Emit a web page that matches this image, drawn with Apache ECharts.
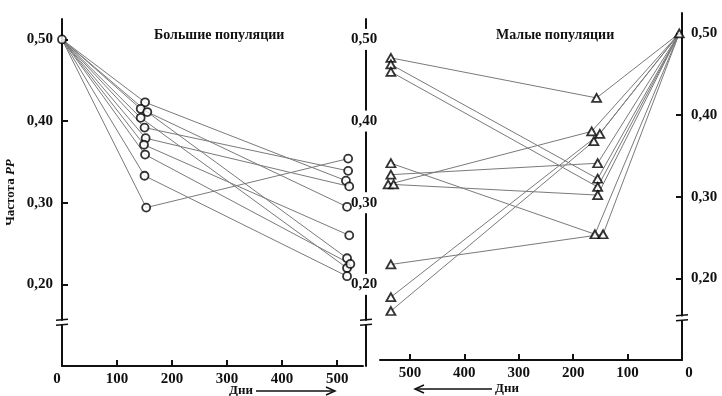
<!DOCTYPE html>
<html>
<head>
<meta charset="utf-8">
<script src="https://cdn.jsdelivr.net/npm/echarts@6/dist/echarts.min.js"></script>
<style>
  html, body { margin: 0; padding: 0; background: #fff; }
  #chart { width: 722px; height: 396px; }
</style>
</head>
<body>
<div id="chart"></div>
<script>
// ---- Large populations: all lines start at day 0, PP frequency 0.50 ----
const bigStartDay = 0;
const bigStartFreq = 0.50;
const bigMidDays = [151, 143, 155, 143, 150, 152, 149, 151, 150, 153];
const bigMidFreq = [0.423, 0.415, 0.411, 0.404, 0.392, 0.379, 0.371, 0.359, 0.333, 0.294];
const bigEndDays = [516, 518, 518, 518, 520, 522, 522, 524, 518, 520];
const bigEndFreq = [0.327, 0.295, 0.232, 0.220, 0.339, 0.320, 0.260, 0.225, 0.210, 0.354];

// ---- Small populations: all lines end at day ~0, PP frequency 0.50 ----
const smallStartDays = [535, 535, 535, 535, 535, 540, 530, 535, 535, 535];
const smallStartFreq = [0.470, 0.462, 0.453, 0.341, 0.327, 0.315, 0.315, 0.217, 0.177, 0.160];
const smallMidDays = [157, 155, 155, 160, 155, 166, 155, 145, 151, 162];
const smallMidFreq = [0.421, 0.322, 0.312, 0.254, 0.341, 0.380, 0.302, 0.254, 0.377, 0.368];
const smallEndDay = 5;
const smallEndFreq = 0.50;

// ---- Axis labels ----
const dayTicks = [100, 200, 300, 400, 500];
const dayLabels = [0, 100, 200, 300, 400, 500];
const freqTicks = [0.20, 0.30, 0.40, 0.50];
const titleBig = 'Большие популяции';
const titleSmall = 'Малые популяции';
const freqName = 'Частота ';
const freqNameItalic = 'PP';
const daysName = 'Дни';

const FONT = 'Liberation Serif';
const INK = '#111';
const LINE = '#7a7a7a';

const fmtFreq = v => v.toFixed(2).replace('.', ',');
const numText = { fontFamily: FONT, fontWeight: 'bold', fontSize: 15, color: INK };

const chart = echarts.init(document.getElementById('chart'), null, { renderer: 'canvas' });

function xAxisBase(gridIndex, inverse, max) {
  return {
    type: 'value', gridIndex, min: 0, max, inverse,
    axisLine: { show: true, onZero: false, lineStyle: { color: INK, width: 2 } },
    axisTick: { show: true, inside: true, length: 6, customValues: dayTicks, lineStyle: { color: INK, width: 2 } },
    axisLabel: Object.assign({}, numText, {
      customValues: dayLabels, margin: 6,
      formatter: v => (v === 0 ? '{z|0}' : String(v)),
      rich: { z: Object.assign({}, numText, { padding: inverse ? [0, 0, 0, 14] : [0, 10, 0, 0] }) }
    }),
    splitLine: { show: false }
  };
}

function yAxisBase(gridIndex, position, extra) {
  return Object.assign({
    type: 'value', gridIndex, min: 0.10, max: 0.525, position,
    axisLine: { show: true, onZero: false, lineStyle: { color: INK, width: 2 } },
    axisTick: { show: true, inside: true, length: 6, customValues: freqTicks, lineStyle: { color: INK, width: 2 } },
    axisLabel: Object.assign({}, numText, { customValues: freqTicks, formatter: fmtFreq, margin: 9 }),
    splitLine: { show: false }
  }, extra || {});
}

const series = [];

// connecting lines, large populations
for (let i = 0; i < bigMidFreq.length; i++) {
  series.push({
    type: 'line', xAxisIndex: 0, yAxisIndex: 0, showSymbol: false, silent: true, z: 2,
    lineStyle: { color: LINE, width: 1 },
    data: [[bigStartDay, bigStartFreq], [bigMidDays[i], bigMidFreq[i]], [bigEndDays[i], bigEndFreq[i]]]
  });
}
// connecting lines, small populations
for (let i = 0; i < smallMidFreq.length; i++) {
  series.push({
    type: 'line', xAxisIndex: 1, yAxisIndex: 2, showSymbol: false, silent: true, z: 2,
    lineStyle: { color: LINE, width: 1 },
    data: [[smallStartDays[i], smallStartFreq[i]], [smallMidDays[i], smallMidFreq[i]], [smallEndDay, smallEndFreq]]
  });
}

// markers
const bigPoints = [[bigStartDay, bigStartFreq]];
bigMidFreq.forEach((f, i) => bigPoints.push([bigMidDays[i], f]));
bigEndFreq.forEach((f, i) => bigPoints.push([bigEndDays[i], f]));
series.push({
  type: 'scatter', xAxisIndex: 0, yAxisIndex: 0, z: 5, silent: true,
  symbol: 'circle', symbolSize: 8,
  itemStyle: { color: '#fff', borderColor: '#000', borderWidth: 1.8 },
  data: bigPoints
});

const smallPoints = [[smallEndDay, smallEndFreq]];
smallStartFreq.forEach((f, i) => smallPoints.push([smallStartDays[i], f]));
smallMidFreq.forEach((f, i) => smallPoints.push([smallMidDays[i], f]));
series.push({
  type: 'scatter', xAxisIndex: 1, yAxisIndex: 2, z: 5, silent: true,
  symbol: 'triangle', symbolSize: [9, 8],
  itemStyle: { color: '#fff', borderColor: '#000', borderWidth: 1.8 },
  data: smallPoints
});

const titleStyle = { fontFamily: FONT, fontWeight: 'bold', fontSize: 14, color: INK };

const option = {
  backgroundColor: '#fff',
  animation: false,
  title: [
    { text: titleBig, left: 149, top: 23, textStyle: titleStyle },
    { text: titleSmall, left: 491, top: 23, textStyle: titleStyle }
  ],
  grid: [
    { left: 62, top: 19, width: 301, height: 347 },
    { left: 380, top: 13, width: 302, height: 347 }
  ],
  xAxis: [
    xAxisBase(0, false, 547),
    xAxisBase(1, true, 555)
  ],
  yAxis: [
    yAxisBase(0, 'left', {
      name: '{a|' + freqName + '}{b|' + freqNameItalic + '}',
      nameLocation: 'middle', nameRotate: 90, nameGap: 45,
      nameTextStyle: {
        rich: {
          a: { fontFamily: FONT, fontWeight: 'bold', fontSize: 13, color: INK },
          b: { fontFamily: FONT, fontWeight: 'bold', fontStyle: 'italic', fontSize: 13, color: INK }
        }
      }
    }),
    // axis between the panels, labels sit on the line
    yAxisBase(0, 'right', {
      offset: 3,
      axisTick: { show: false },
      axisLabel: Object.assign({}, numText, {
        customValues: freqTicks, formatter: fmtFreq, margin: -2, align: 'center',
        backgroundColor: '#fff', padding: [3, 1, 3, 1]
      })
    }),
    yAxisBase(1, 'right')
  ],
  series
};

chart.setOption(option);

// axis break marks and the "days" arrows
function breakMark(x, y) {
  return [
    { type: 'rect', shape: { x: x - 5, y: y - 2, width: 10, height: 4 }, style: { fill: '#fff' }, z: 10 },
    { type: 'line', shape: { x1: x - 6, y1: y - 2.5, x2: x + 6, y2: y - 3.5 }, style: { stroke: INK, lineWidth: 1.5 }, z: 11 },
    { type: 'line', shape: { x1: x - 6, y1: y + 2.5, x2: x + 6, y2: y + 1.5 }, style: { stroke: INK, lineWidth: 1.5 }, z: 11 }
  ];
}
const pLeft = chart.convertToPixel({ gridIndex: 0 }, [0, 0.153]);
const pMid = chart.convertToPixel({ gridIndex: 0 }, [547, 0.153]);
const pRight = chart.convertToPixel({ gridIndex: 1 }, [0, 0.151]);

const nameStyle = { fontFamily: FONT, fontWeight: 'bold', fontSize: 13, fill: INK };
const graphics = []
  .concat(breakMark(pLeft[0], pLeft[1]))
  .concat(breakMark(pMid[0] + 3, pMid[1]))
  .concat(breakMark(pRight[0], pRight[1]))
  .concat([
    { type: 'text', left: 229, top: 384, style: Object.assign({ text: daysName }, nameStyle) },
    { type: 'line', shape: { x1: 256, y1: 391, x2: 333, y2: 391 }, style: { stroke: INK, lineWidth: 1.5 } },
    { type: 'polyline', shape: { points: [[326, 387], [335, 391], [326, 395]] }, style: { stroke: INK, lineWidth: 1.5, fill: null } },
    { type: 'text', left: 495, top: 382, style: Object.assign({ text: daysName }, nameStyle) },
    { type: 'line', shape: { x1: 416, y1: 389, x2: 492, y2: 389 }, style: { stroke: INK, lineWidth: 1.5 } },
    { type: 'polyline', shape: { points: [[424, 385], [415, 389], [424, 393]] }, style: { stroke: INK, lineWidth: 1.5, fill: null } }
  ]);
chart.setOption({ graphic: graphics });
</script>
</body>
</html>
